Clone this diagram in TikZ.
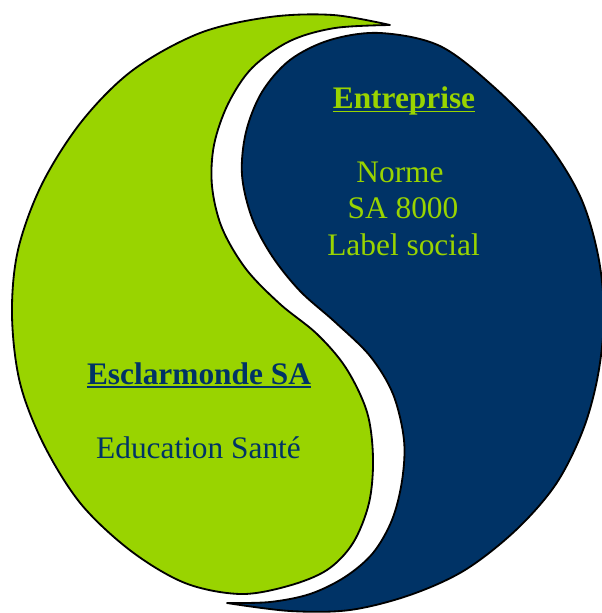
\documentclass[tikz,border=0pt]{standalone}
\usepackage{fontspec}
\setmainfont{Liberation Serif}
\definecolor{yyGreen}{RGB}{153,212,0}
\definecolor{yyBlue}{RGB}{0,51,102}

\begin{document}
\begin{tikzpicture}[
          x=0.025cm, y=-0.025cm,
          piece/.style={draw=black, line width=1.3pt, line join=round},
          lbl/.style={inner sep=0pt, anchor=base, font=\fontsize{22.3}{26}\selectfont},
          title/.style={lbl, font=\fontsize{22.3}{26}\selectfont\bfseries},
          uline/.style={line width=1.3pt}
        ]
          \useasboundingbox (0,0) rectangle (602,613);

          \draw [piece, fill=yyGreen] plot [smooth, tension=0.55] coordinates {
            (390,25) (333,15) (270,17) (200,33) (133,70) (82,121) (42,184) (18,250)
            (12,315) (20,383) (44,445) (81,504) (131,551) (185,583) (240,594)
            (288,586) (327,570) (353,543) (369,503) (373,458) (367,412) (346,368)
            (317,334) (280,304) (246,269) (222,228) (212,186) (214,145) (228,104)
            (252,68) (290,41) (335,28) (390,25)
          } -- cycle;

          \draw [piece, fill=yyBlue] plot [smooth, tension=0.55] coordinates {
            (227,603) (270,602) (310,594) (345,577) (373,553) (392,520) (402,481)
            (404,440) (393,394) (370,356) (335,322) (300,291) (272,256) (252,218)
            (242,175) (246,132) (262,92) (290,60) (330,40) (380,33) (440,46)
            (495,88) (545,140) (580,196) (598,255) (604,315) (598,375) (583,430)
            (556,484) (516,530) (465,570) (410,595) (350,610) (290,611) (227,603)
          } -- cycle;

          \node (entTitle) at (404,108) [title, text=yyGreen] {Entreprise};
          \node (entNorme) at (400,182) [lbl, text=yyGreen] {Norme};
          \node (entSa) at (403,218) [lbl, text=yyGreen] {SA 8000};
          \node (entLabel) at (403.5,255) [lbl, text=yyGreen] {Label social};

          \node (escTitle) at (199,384) [title, text=yyBlue] {Esclarmonde SA};
          \node (escEdu) at (198.5,458) [lbl, text=yyBlue] {Education Santé};

          \draw [uline, yyGreen] ([yshift=-2.5pt]entTitle.base west) -- ([yshift=-2.5pt]entTitle.base east);
          \draw [uline, yyBlue] ([yshift=-2.2pt]escTitle.base west) -- ([yshift=-2.2pt]escTitle.base east);
        \end{tikzpicture}
\end{document}
